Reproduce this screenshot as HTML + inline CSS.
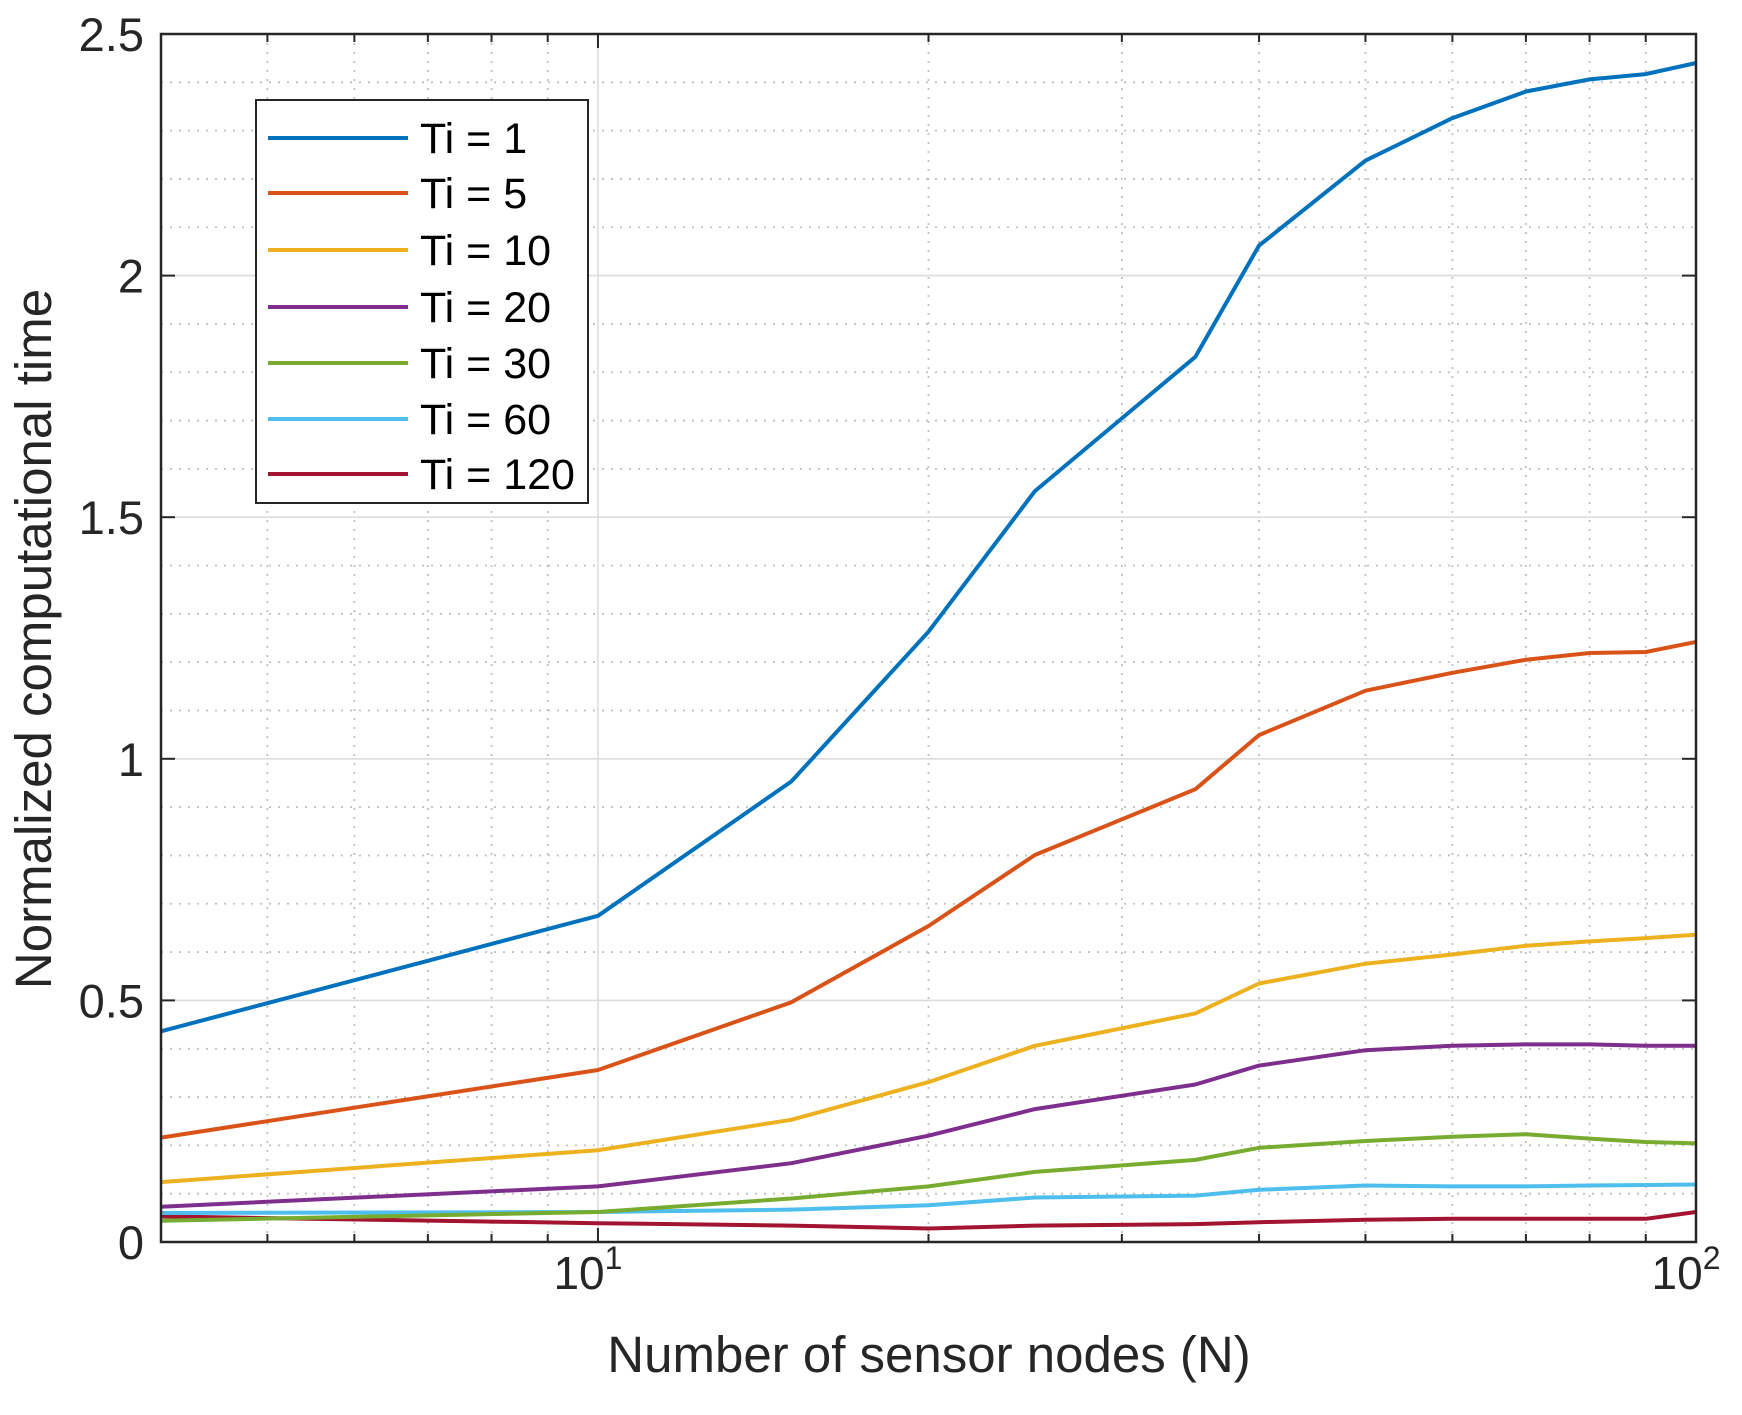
<!DOCTYPE html>
<html><head><meta charset="utf-8"><style>
html,body{margin:0;padding:0;background:#fff;}
svg{display:block;font-family:"Liberation Sans",Arial,sans-serif;}
</style></head><body>
<svg id="s" width="1742" height="1415" viewBox="0 0 1742 1415" xmlns="http://www.w3.org/2000/svg"></svg>
<script>
const L=161,R=1696,T=34,B=1242;
const X=n=>L+(Math.log10(n)-Math.log10(4))/Math.log10(25)*(R-L);
const Y=v=>B-v/2.5*(B-T);
let h='';
for(let i=1;i<25;i++){if(i%5==0)continue;const y=Y(i/10);h+=`<line x1="${L}" x2="${R}" y1="${y}" y2="${y}" stroke="#c0c0c0" stroke-width="1.8" stroke-dasharray="2,7"/>`;}
[4,5,6,7,8,9,20,30,40,50,60,70,80,90].forEach(n=>{const x=X(n);h+=`<line x1="${x}" x2="${x}" y1="${T}" y2="${B}" stroke="#c0c0c0" stroke-width="1.8" stroke-dasharray="2,7"/>`;});
for(let i=1;i<5;i++){const y=Y(i/2);h+=`<line x1="${L}" x2="${R}" y1="${y}" y2="${y}" stroke="#dcdcdc" stroke-width="1.6"/>`;}
h+=`<line x1="${X(10)}" x2="${X(10)}" y1="${T}" y2="${B}" stroke="#dcdcdc" stroke-width="1.6"/>`;
const N=[4,10,15,20,25,35,40,50,60,70,80,90,100];
const S=[
['#0072BD',[0.436,0.675,0.953,1.263,1.554,1.832,2.062,2.238,2.326,2.381,2.406,2.417,2.44],'Ti = 1'],
['#D95319',[0.216,0.356,0.496,0.654,0.801,0.937,1.049,1.141,1.178,1.205,1.219,1.221,1.242],'Ti = 5'],
['#EDB120',[0.124,0.19,0.253,0.331,0.406,0.473,0.535,0.576,0.595,0.613,0.622,0.629,0.636],'Ti = 10'],
['#7E2F8E',[0.073,0.115,0.163,0.22,0.275,0.326,0.365,0.397,0.406,0.409,0.409,0.406,0.406],'Ti = 20'],
['#77AC30',[0.044,0.062,0.09,0.115,0.145,0.17,0.195,0.209,0.218,0.223,0.214,0.207,0.204],'Ti = 30'],
['#4DBEEE',[0.06,0.062,0.067,0.076,0.092,0.096,0.108,0.117,0.115,0.115,0.117,0.118,0.119],'Ti = 60'],
['#A2142F',[0.053,0.039,0.034,0.028,0.034,0.037,0.041,0.046,0.048,0.048,0.048,0.048,0.062],'Ti = 120']];
S.slice().reverse().forEach(s=>{h+=`<polyline fill="none" stroke="${s[0]}" stroke-width="4" stroke-linejoin="round" points="${N.map((n,i)=>X(n).toFixed(1)+','+Y(s[1][i]).toFixed(1)).join(' ')}"/>`;});
h+=`<rect x="${L}" y="${T}" width="${R-L}" height="${B-T}" fill="none" stroke="#262626" stroke-width="2.5"/>`;
for(let i=0;i<=5;i++){const y=Y(i/2);h+=`<line x1="${L}" x2="${L+14}" y1="${y}" y2="${y}" stroke="#262626" stroke-width="2"/><line x1="${R-14}" x2="${R}" y1="${y}" y2="${y}" stroke="#262626" stroke-width="2"/>`;
h+=`<text x="144" y="${y+17}" font-size="47" text-anchor="end" fill="#262626">${['0','0.5','1','1.5','2','2.5'][i]}</text>`;}
[4,5,6,7,8,9,10,20,30,40,50,60,70,80,90,100].forEach(n=>{const x=X(n),l=(n==10||n==100)?14:8;h+=`<line x1="${x}" x2="${x}" y1="${B-l}" y2="${B}" stroke="#262626" stroke-width="2"/><line x1="${x}" x2="${x}" y1="${T}" y2="${T+l}" stroke="#262626" stroke-width="2"/>`;});
h+=`<text x="${X(10)-10}" y="1289" font-size="46" text-anchor="middle" fill="#262626">10<tspan dy="-20" font-size="32">1</tspan></text>`;
h+=`<text x="${X(100)-10}" y="1289" font-size="46" text-anchor="middle" fill="#262626">10<tspan dy="-20" font-size="32">2</tspan></text>`;
h+=`<text x="929" y="1372" font-size="51" text-anchor="middle" fill="#262626">Number of sensor nodes (N)</text>`;
h+=`<text transform="translate(51,639) rotate(-90)" font-size="51" text-anchor="middle" fill="#262626">Normalized computational time</text>`;
h+=`<rect x="256" y="100" width="332" height="403" fill="#fff" stroke="#262626" stroke-width="2"/>`;
const ry=[138,193,250,307,363,419,474];
S.forEach((s,i)=>{h+=`<line x1="268" x2="408" y1="${ry[i]}" y2="${ry[i]}" stroke="${s[0]}" stroke-width="4"/><text x="420" y="${ry[i]+15}" font-size="43" fill="#000">${s[2]}</text>`;});
document.getElementById('s').innerHTML=h;
</script>
</body></html>
